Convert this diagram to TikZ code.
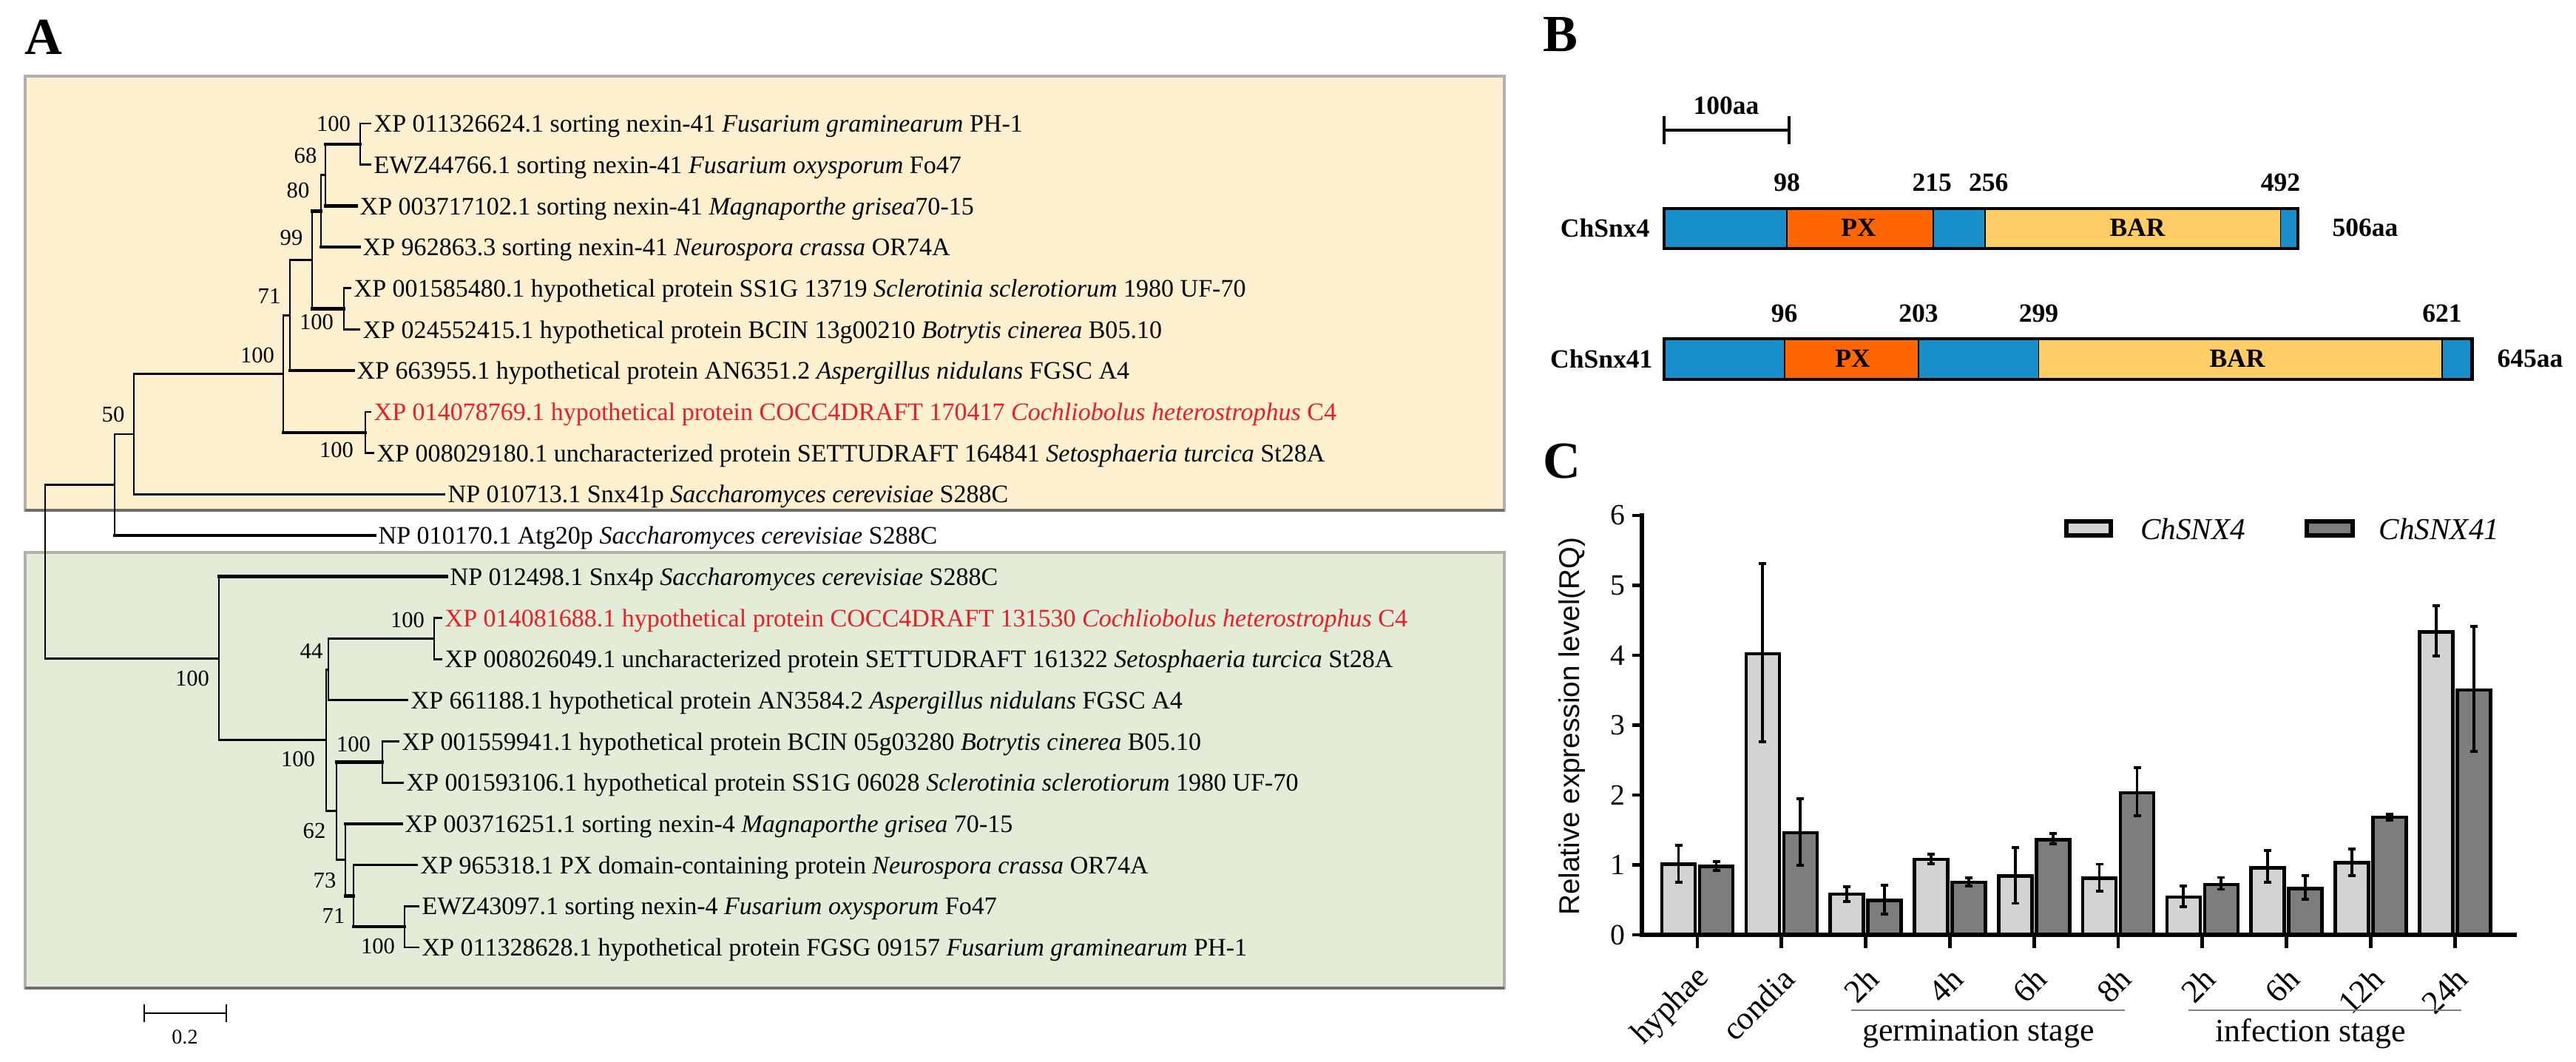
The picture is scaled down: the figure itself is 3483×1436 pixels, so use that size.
\documentclass[tikz,border=0pt]{standalone}
\usepackage{fontspec}
\setmainfont{Liberation Serif}
\newfontfamily\axsans{Liberation Sans}
\definecolor{hred}{RGB}{232,30,40}
\definecolor{orbox}{RGB}{253,240,207}
\definecolor{grbox}{RGB}{226,236,215}
\definecolor{boxedge}{RGB}{175,175,175}
\definecolor{boxshade}{RGB}{110,110,110}
\definecolor{dblue}{RGB}{24,143,200}
\definecolor{dorange}{RGB}{255,102,0}
\definecolor{dyellow}{RGB}{255,204,102}
\definecolor{barlight}{RGB}{211,211,211}
\definecolor{bardark}{RGB}{125,125,125}
\newcommand\aaX[1]{2250+1.694*#1}
\begin{document}
\begin{tikzpicture}[x=0.01cm,y=-0.01cm,
  leaf/.style={anchor=west,inner xsep=0.04cm,inner ysep=0pt,text height=8.8pt,text depth=2.2pt,font=\fontsize{9.68}{11.6}\selectfont},
  boot/.style={inner sep=0pt,font=\fontsize{8.7}{10}\selectfont},
  br/.style={line width=0.8pt,line cap=rect},
  tbr/.style={line width=1.3pt,line cap=rect},
  panel/.style={inner sep=0pt,font=\fontsize{20}{24}\selectfont\bfseries},
  blab/.style={inner sep=0pt,font=\fontsize{10.1}{12}\selectfont\bfseries},
  ticklab/.style={inner sep=0pt,font=\fontsize{11.3}{13}\selectfont},
  xlab/.style={inner sep=0pt,font=\fontsize{12.5}{14}\selectfont},
  leglab/.style={inner sep=0pt,font=\fontsize{11.7}{14}\selectfont\itshape},
  barL/.style={fill=barlight,draw=black,line width=1.3pt},
  barD/.style={fill=bardark,draw=black,line width=1.3pt},
  errb/.style={line width=1.1pt}
]
\useasboundingbox[fill=white] (0,0) rectangle (3483,1436);

% ---------------- Panel A ----------------
\node[panel] (pA) at (59,50) {A};
\draw[fill=orbox,draw=boxedge,line width=0.9pt] (34,103) rectangle (2034,690);
\draw[boxshade,line width=0.9pt] (34,690) -- (2034,690);
\draw[fill=grbox,draw=boxedge,line width=0.9pt] (34,747) rectangle (2034,1336);
\draw[boxshade,line width=0.9pt] (34,1336) -- (2034,1336);

\node[leaf] (l1) at (501,167.0) {XP 011326624.1 sorting nexin-41 \textit{Fusarium graminearum} PH-1};
\node[leaf] (l2) at (501,222.7) {EWZ44766.1 sorting nexin-41 \textit{Fusarium oxysporum} Fo47};
\node[leaf] (l3) at (482,278.4) {XP 003717102.1 sorting nexin-41 \textit{Magnaporthe grisea}70-15};
\node[leaf] (l4) at (486,334.1) {XP 962863.3 sorting nexin-41 \textit{Neurospora crassa} OR74A};
\node[leaf] (l5) at (474,389.8) {XP 001585480.1 hypothetical protein SS1G 13719 \textit{Sclerotinia sclerotiorum} 1980 UF-70};
\node[leaf] (l6) at (486,445.5) {XP 024552415.1 hypothetical protein BCIN 13g00210 \textit{Botrytis cinerea} B05.10};
\node[leaf] (l7) at (478,501.2) {XP 663955.1 hypothetical protein AN6351.2 \textit{Aspergillus nidulans} FGSC A4};
\node[leaf,text=hred] (l8) at (501,556.9) {XP 014078769.1 hypothetical protein COCC4DRAFT 170417 \textit{Cochliobolus heterostrophus} C4};
\node[leaf] (l9) at (505,612.6) {XP 008029180.1 uncharacterized protein SETTUDRAFT 164841 \textit{Setosphaeria turcica} St28A};
\node[leaf] (l10) at (601,668.3) {NP 010713.1 Snx41p \textit{Saccharomyces cerevisiae} S288C};
\node[leaf] (l11) at (507,724.0) {NP 010170.1 Atg20p \textit{Saccharomyces cerevisiae} S288C};
\node[leaf] (l12) at (604,779.7) {NP 012498.1 Snx4p \textit{Saccharomyces cerevisiae} S288C};
\node[leaf,text=hred] (l13) at (597,835.4) {XP 014081688.1 hypothetical protein COCC4DRAFT 131530 \textit{Cochliobolus heterostrophus} C4};
\node[leaf] (l14) at (597,891.1) {XP 008026049.1 uncharacterized protein SETTUDRAFT 161322 \textit{Setosphaeria turcica} St28A};
\node[leaf] (l15) at (551,946.8) {XP 661188.1 hypothetical protein AN3584.2 \textit{Aspergillus nidulans} FGSC A4};
\node[leaf] (l16) at (539,1002.5) {XP 001559941.1 hypothetical protein BCIN 05g03280 \textit{Botrytis cinerea} B05.10};
\node[leaf] (l17) at (545,1058.2) {XP 001593106.1 hypothetical protein SS1G 06028 \textit{Sclerotinia sclerotiorum} 1980 UF-70};
\node[leaf] (l18) at (543,1113.9) {XP 003716251.1 sorting nexin-4 \textit{Magnaporthe grisea} 70-15};
\node[leaf] (l19) at (564,1169.6) {XP 965318.1 PX domain-containing protein \textit{Neurospora crassa} OR74A};
\node[leaf] (l20) at (566,1225.3) {EWZ43097.1 sorting nexin-4 \textit{Fusarium oxysporum} Fo47};
\node[leaf] (l21) at (566,1281.0) {XP 011328628.1 hypothetical protein FGSG 09157 \textit{Fusarium graminearum} PH-1};

\coordinate (N1) at (487,194.9);
\coordinate (N68) at (440,236.6);
\coordinate (N80) at (434,285.4);
\coordinate (N56) at (465,417.7);
\coordinate (N99) at (422,351.5);
\coordinate (N71) at (392,426.4);
\coordinate (N89) at (494,584.8);
\coordinate (NA) at (383,505.6);
\coordinate (N50) at (181,587.0);
\coordinate (NO) at (155,655.5);
\coordinate (R) at (61,772.9);
\coordinate (NB) at (296,890.2);
\coordinate (NC) at (441,1000.8);
\coordinate (N44) at (444,905.1);
\coordinate (N1314) at (587,863.3);
\coordinate (N62) at (455,1096.5);
\coordinate (N1617) at (517,1030.4);
\coordinate (N73) at (467,1162.7);
\coordinate (N71b) at (478,1211.4);
\coordinate (N2021) at (547,1253.2);

% verticals
\draw[br] (N1 |- l1.west) -- (N1 |- l2.west);
\draw[br] (N68 |- N1) -- (N68 |- l3.west);
\draw[br] (N80 |- N68) -- (N80 |- l4.west);
\draw[br] (N56 |- l5.west) -- (N56 |- l6.west);
\draw[br] (N99 |- N80) -- (N99 |- N56);
\draw[br] (N71 |- N99) -- (N71 |- l7.west);
\draw[br] (N89 |- l8.west) -- (N89 |- l9.west);
\draw[br] (NA |- N71) -- (NA |- N89);
\draw[br] (N50 |- NA) -- (N50 |- l10.west);
\draw[br] (NO |- N50) -- (NO |- l11.west);
\draw[br] (R |- NO) -- (R |- NB);
\draw[br] (NB |- l12.west) -- (NB |- NC);
\draw[br] (NC |- N44) -- (NC |- N62);
\draw[br] (N44 |- N1314) -- (N44 |- l15.west);
\draw[br] (N1314 |- l13.west) -- (N1314 |- l14.west);
\draw[br] (N62 |- N1617) -- (N62 |- N73);
\draw[br] (N1617 |- l16.west) -- (N1617 |- l17.west);
\draw[br] (N73 |- l18.west) -- (N73 |- N71b);
\draw[br] (N71b |- l19.west) -- (N71b |- N2021);
\draw[br] (N2021 |- l20.west) -- (N2021 |- l21.west);
% horizontals
\draw[br] (N1 |- l1.west) -- (l1.west);
\draw[br] (N1 |- l2.west) -- (l2.west);
\draw[tbr] (N68 |- N1) -- (N1);
\draw[tbr] (N68 |- l3.west) -- (l3.west);
\draw[br] (N80 |- N68) -- (N68);
\draw[tbr] (N80 |- l4.west) -- (l4.west);
\draw[tbr] (N99 |- N80) -- (N80);
\draw[br] (N56 |- l5.west) -- (l5.west);
\draw[br] (N56 |- l6.west) -- (l6.west);
\draw[tbr] (N99 |- N56) -- (N56);
\draw[br] (N71 |- N99) -- (N99);
\draw[tbr] (N71 |- l7.west) -- (l7.west);
\draw[br] (NA |- N71) -- (N71);
\draw[tbr] (NA |- N89) -- (N89);
\draw[br] (N89 |- l8.west) -- (l8.west);
\draw[br] (N89 |- l9.west) -- (l9.west);
\draw[br] (N50 |- NA) -- (NA);
\draw[br] (N50 |- l10.west) -- (l10.west);
\draw[br] (NO |- N50) -- (N50);
\draw[tbr] (NO |- l11.west) -- (l11.west);
\draw[br] (R |- NO) -- (NO);
\draw[br] (R |- NB) -- (NB);
\draw[tbr] (NB |- l12.west) -- (l12.west);
\draw[br] (NB |- NC) -- (NC);
\draw[br] (NC |- N44) -- (N44);
\draw[br] (NC |- N62) -- (N62);
\draw[br] (N44 |- N1314) -- (N1314);
\draw[br] (N44 |- l15.west) -- (l15.west);
\draw[br] (N1314 |- l13.west) -- (l13.west);
\draw[br] (N1314 |- l14.west) -- (l14.west);
\draw[tbr] (N62 |- N1617) -- (N1617);
\draw[br] (N62 |- N73) -- (N73);
\draw[br] (N1617 |- l16.west) -- (l16.west);
\draw[br] (N1617 |- l17.west) -- (l17.west);
\draw[tbr] (N73 |- l18.west) -- (l18.west);
\draw[tbr] (N73 |- N71b) -- (N71b);
\draw[br] (N71b |- l19.west) -- (l19.west);
\draw[tbr] (N71b |- N2021) -- (N2021);
\draw[br] (N2021 |- l20.west) -- (l20.west);
\draw[br] (N2021 |- l21.west) -- (l21.west);

% bootstrap values
\node[boot] (b1) at (451,167) {100};
\node[boot] (b2) at (413,210) {68};
\node[boot] (b3) at (403,257) {80};
\node[boot] (b4) at (394,322) {99};
\node[boot] (b5) at (364,400) {71};
\node[boot] (b6) at (428,435) {100};
\node[boot] (b7) at (348,480) {100};
\node[boot] (b8) at (153,560) {50};
\node[boot] (b9) at (455,608) {100};
\node[boot] (b10) at (260,917) {100};
\node[boot] (b11) at (551,838) {100};
\node[boot] (b12) at (421,880) {44};
\node[boot] (b13) at (403,1026) {100};
\node[boot] (b14) at (478,1006) {100};
\node[boot] (b15) at (425,1124) {62};
\node[boot] (b16) at (439,1191) {73};
\node[boot] (b17) at (451,1238) {71};
\node[boot] (b18) at (511,1279) {100};

% scale bar
\coordinate (sA) at (195,1370);
\coordinate (sB) at (306,1370);
\draw[br,line cap=butt] (sA) -- (sB);
\draw[br,line cap=butt] ([yshift=0.12cm]sA) -- ([yshift=-0.12cm]sA);
\draw[br,line cap=butt] ([yshift=0.12cm]sB) -- ([yshift=-0.12cm]sB);
\node[boot,font=\fontsize{8}{10}\selectfont] (sLab) at (250,1402) {0.2};

% ---------------- Panel B ----------------
\node[panel] (pB) at (2110,47) {B};
\coordinate (hA) at (2250,176);
\coordinate (hB) at (2419,176);
\draw[line width=0.9pt] (hA) -- (hB);
\draw[line width=0.9pt] (2250,157) -- (2250,195);
\draw[line width=0.9pt] (2419,157) -- (2419,195);
\node[blab] (hLab) at (2334,143) {100aa};

% ChSnx4
\fill[dblue] (2250,282) rectangle ({\aaX{98}},336);
\fill[dorange] ({\aaX{98}},282) rectangle ({\aaX{215}},336);
\fill[dblue] ({\aaX{215}},282) rectangle ({\aaX{256}},336);
\fill[dyellow] ({\aaX{256}},282) rectangle ({\aaX{492}},336);
\fill[dblue] ({\aaX{492}},282) rectangle ({\aaX{506}},336);
\foreach \p in {98,215,256,492} \draw[line width=0.5pt] ({\aaX{\p}},282) -- ({\aaX{\p}},336);
\draw[line width=1.3pt] (2250,282) rectangle ({\aaX{506}},336);
\node[blab,anchor=east] (n4) at (2231,308) {ChSnx4};
\node[blab] (px4) at (2513,308) {PX};
\node[blab] (bar4) at (2890,308) {BAR};
\node[blab] (len4) at (3198,308) {506aa};
\node[blab] (a98) at ({\aaX{98}},247) {98};
\node[blab] (a215) at ({\aaX{215}-2},247) {215};
\node[blab] (a256) at ({\aaX{256}+5},247) {256};
\node[blab] (a492) at ({\aaX{492}},247) {492};

% ChSnx41
\fill[dblue] (2250,458) rectangle ({\aaX{96}},513);
\fill[dorange] ({\aaX{96}},458) rectangle ({\aaX{203}},513);
\fill[dblue] ({\aaX{203}},458) rectangle ({\aaX{299}},513);
\fill[dyellow] ({\aaX{299}},458) rectangle ({\aaX{621}},513);
\fill[dblue] ({\aaX{621}},458) rectangle ({\aaX{645}},513);
\foreach \p in {96,203,299,621} \draw[line width=0.5pt] ({\aaX{\p}},458) -- ({\aaX{\p}},513);
\draw[line width=1.3pt] (2250,458) rectangle ({\aaX{645}},513);
\node[blab,anchor=east] (n41) at (2235,485) {ChSnx41};
\node[blab] (px41) at (2505,485) {PX};
\node[blab] (bar41) at (3025,485) {BAR};
\node[blab] (len41) at (3421,485) {645aa};
\node[blab] (a96) at ({\aaX{96}},424) {96};
\node[blab] (a203) at ({\aaX{203}},424) {203};
\node[blab] (a299) at ({\aaX{299}},424) {299};
\node[blab] (a621) at ({\aaX{621}},424) {621};

% ---------------- Panel C ----------------
\node[panel] (pC) at (2112,624) {C};
\node[rotate=90,inner sep=0pt,font=\axsans\fontsize{11}{13}\selectfont] (ylab) at (2125,982) {Relative expression level(RQ)};

% bars
\begin{scope}[shift={(0,1264)},y={(0,0.945cm)}]
\foreach \i/\lv/\lh/\ll/\dv/\dh/\dl in {0/1.01/1.28/0.75/0.98/1.05/0.92, 1/4.02/5.31/2.76/1.46/1.95/0.99, 2/0.58/0.69/0.48/0.49/0.71/0.30, 3/1.08/1.15/1.02/0.75/0.81/0.70, 4/0.84/1.25/0.45/1.36/1.45/1.30, 5/0.81/1.01/0.62/2.03/2.39/1.70, 6/0.54/0.70/0.40/0.72/0.82/0.65, 7/0.96/1.21/0.75/0.66/0.85/0.51, 8/1.03/1.23/0.85/1.68/1.72/1.64, 9/4.33/4.71/3.99/3.50/4.41/2.62}{
  \pgfmathsetmacro\c{2295+113.8*\i}
  \draw[barL] ({\c-48},0) rectangle ({\c-3},\lv);
  \draw[barD] ({\c+3},0) rectangle ({\c+48},\dv);
  \draw[errb] ({\c-25.5},\lh) -- ({\c-25.5},\ll);
  \draw[errb] ({\c-30.5},\lh) -- ({\c-20.5},\lh);
  \draw[errb] ({\c-30.5},\ll) -- ({\c-20.5},\ll);
  \draw[errb] ({\c+25.5},\dh) -- ({\c+25.5},\dl);
  \draw[errb] ({\c+20.5},\dh) -- ({\c+30.5},\dh);
  \draw[errb] ({\c+20.5},\dl) -- ({\c+30.5},\dl);
}
\end{scope}

% axes
\coordinate (yTop) at (2220,697);
\coordinate (org) at (2220,1264);
\coordinate (xEnd) at (3400,1264);
\draw[line width=1.8pt,line cap=rect] (yTop) -- (org) -- (xEnd);
\foreach \k in {0,...,6}{
  \draw[line width=1.4pt] (2207,{1264-94.5*\k}) -- (2220,{1264-94.5*\k});
  \node[ticklab] (t\k) at (2187,{1264-94.5*\k}) {\k};
}
\foreach \i/\t in {0/hyphae,1/condia,2/2h,3/4h,4/6h,5/8h,6/2h,7/6h,8/12h,9/24h}{
  \pgfmathsetmacro\c{2295+113.8*\i}
  \draw[line width=1.4pt] (\c,1264) -- (\c,1282);
  \node[xlab,rotate=45,anchor=east] (x\i) at ({\c+10},1316) {\t};
}
\draw[line width=0.7pt,gray] (2503,1366) -- (2873,1366);
\draw[line width=0.7pt,gray] (2959,1366) -- (3328,1366);
\node[xlab] (germ) at (2675,1398) {germination stage};
\node[xlab] (infe) at (3124,1398) {infection stage};

% legend
\draw[barL,line width=1.6pt] (2794,705) rectangle (2854,724);
\node[leglab] (lg1) at (2965,715) {ChSNX4};
\draw[barD,line width=1.6pt] (3119,705) rectangle (3181,724);
\node[leglab] (lg2) at (3298,715) {ChSNX41};
\end{tikzpicture}
\end{document}
